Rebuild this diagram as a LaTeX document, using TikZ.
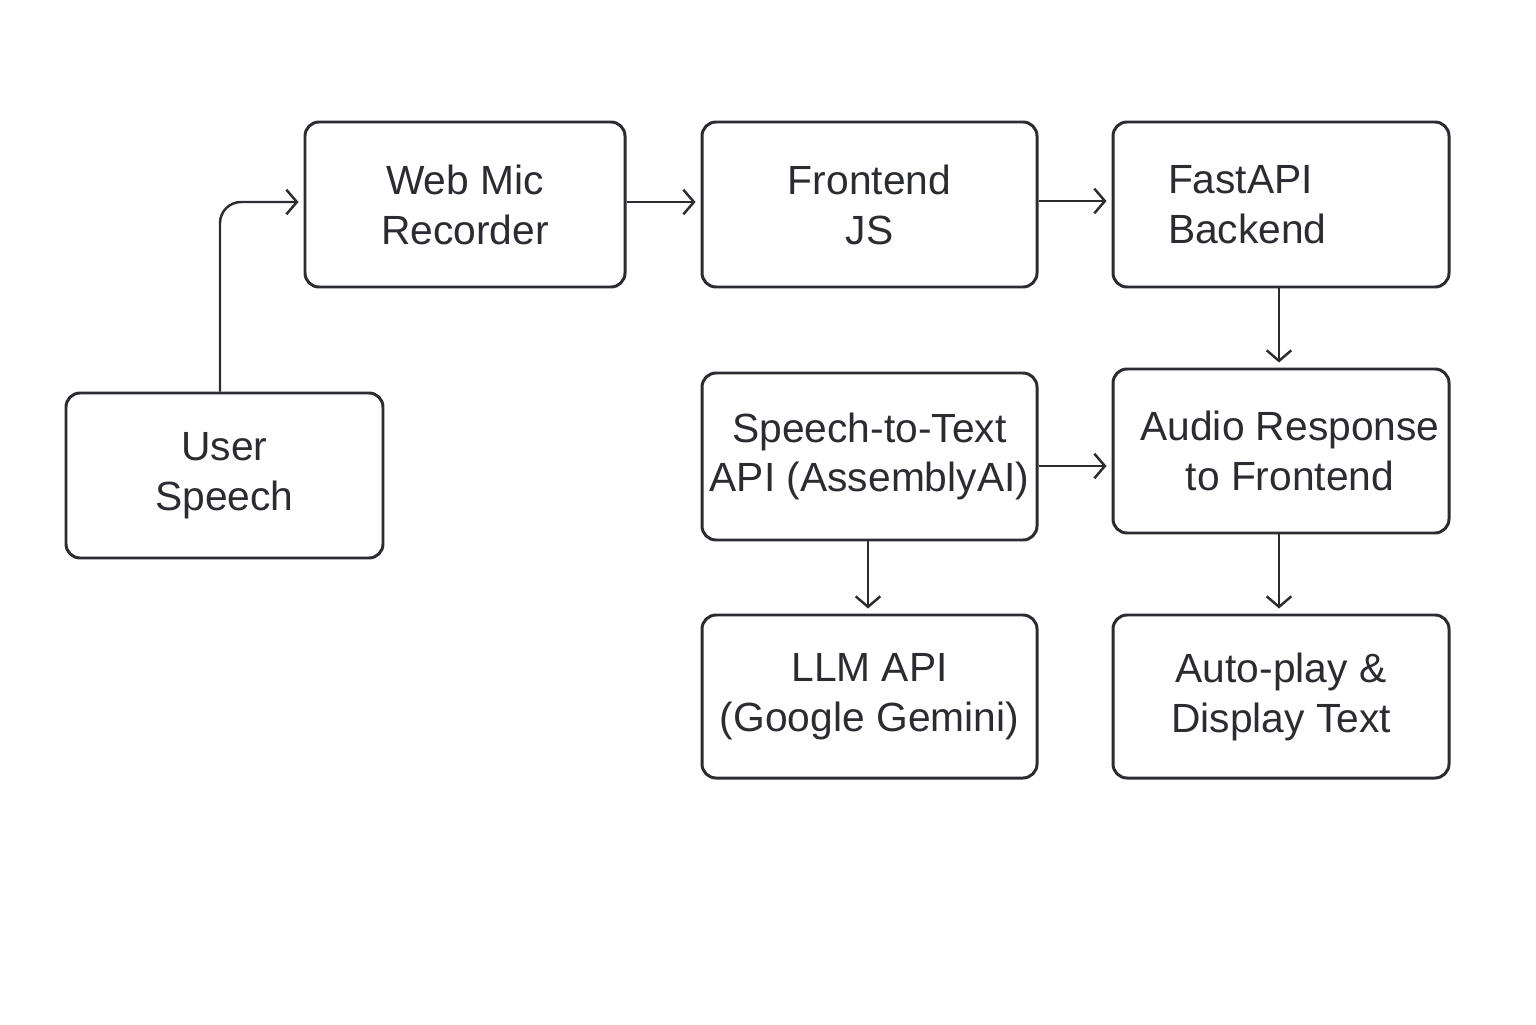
\documentclass[tikz,border=0pt]{standalone}
\usepackage{fontspec}
\setmainfont{Liberation Sans}
\usetikzlibrary{positioning,arrows.meta}
\definecolor{ink}{HTML}{2B2C31}

\begin{document}
\begin{tikzpicture}[box/.style={draw=ink, line width=0.85pt, rounded corners=4pt, align=center, text=ink, font=\fontsize{11.6}{14.2}\selectfont, minimum width=3.35cm, minimum height=1.65cm, inner sep=0pt}, arr/.style={draw=ink, line width=0.7pt, -{Straight Barb[length=3pt,width=7pt,line width=0.7pt]}, shorten >=0.05cm}]
	
	\useasboundingbox (0,0) rectangle (15.36,10.24);
	\node[box, minimum width=3.2cm] (web) at (4.65,8.195) {Web Mic\\Recorder};
	\node[box] (front) at (8.695,8.195) {Frontend\\JS};
	\node[box, minimum width=3.36cm, text width=2.26cm, inner xsep=0.55cm, align=left] (fast) at (12.81,8.195) {FastAPI\\Backend};
	\node[box, minimum width=3.17cm] (user) at (2.245,5.485) {User\\Speech};
	\node[box, minimum height=1.67cm] (stt) at (8.695,5.675) {Speech-to-Text\\API (AssemblyAI)};
	\node[box, minimum width=3.36cm, minimum height=1.64cm] (audio) at (12.81,5.73) {\hspace*{0.18cm}Audio Response\\\hspace*{0.18cm}to Frontend};
	\node[box, minimum height=1.63cm] (llm) at (8.695,3.275) {LLM API\\(Google Gemini)};
	\node[box, minimum width=3.36cm, minimum height=1.63cm] (auto) at (12.81,3.275) {Auto-play \&\\Display Text};
	
	\draw[arr, rounded corners=6pt] ([xshift=-0.045cm]user.north) |- ([yshift=0.025cm]web.west);
	\draw[arr] ([yshift=0.025cm]web.east) -- ([yshift=0.025cm]front.west);
	\draw[arr] ([yshift=0.035cm]front.east) -- ([yshift=0.035cm]fast.west);
	\draw[arr] ([xshift=-0.02cm]fast.south) -- ([xshift=-0.02cm]audio.north);
	\draw[arr] ([yshift=-0.095cm]stt.east) -- ([yshift=-0.095cm]stt.east -| audio.west);
	\draw[arr] ([xshift=-0.015cm]stt.south) -- ([xshift=-0.015cm]llm.north);
	\draw[arr] ([xshift=-0.02cm]audio.south) -- ([xshift=-0.02cm]auto.north);
	\end{tikzpicture}
\end{document}
